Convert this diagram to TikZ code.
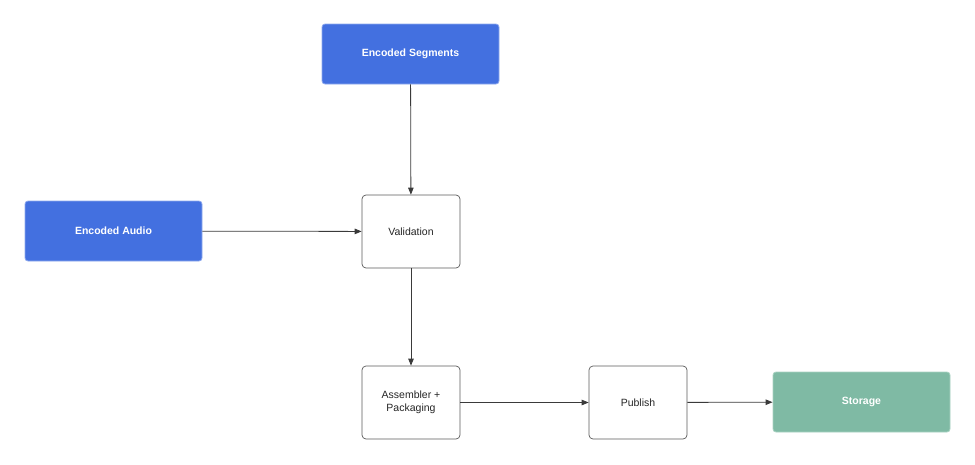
\documentclass[tikz,border=0pt]{standalone}
\usepackage{fontspec}
\setmainfont{Liberation Sans}
\usetikzlibrary{arrows.meta}
\definecolor{bluefill}{HTML}{4370E0}
\definecolor{blueedge}{HTML}{8FA9EE}
\definecolor{greenfill}{HTML}{7FBAA4}
\definecolor{greenedge}{HTML}{A9D2C2}
\definecolor{boxedge}{HTML}{5A5A5A}
\definecolor{linecol}{HTML}{3A3A3A}
\tikzset{
  x=1pt, y=-1pt,
  bluebox/.style={draw=blueedge, fill=bluefill, rounded corners=3pt, minimum width=177pt, minimum height=60pt, text=white, font=\fontsize{10.5}{12}\selectfont\bfseries, inner sep=0pt, line width=0.8pt},
  greenbox/.style={draw=greenedge, fill=greenfill, rounded corners=3pt, minimum width=177pt, minimum height=60pt, text=white, font=\fontsize{10.5}{12}\selectfont\bfseries, inner sep=0pt, line width=0.8pt},
  procbox/.style={draw=boxedge, fill=white, rounded corners=4pt, minimum width=98pt, minimum height=73pt, text=black!85, font=\fontsize{10.5}{13}\selectfont, align=center, inner sep=0pt, line width=0.7pt},
  conn/.style={draw=linecol, line width=0.8pt, -{Triangle[length=7pt,width=5.5pt]}}
}
\begin{document}
\begin{tikzpicture}
\useasboundingbox (0,0) rectangle (975,464);
\node[bluebox] (seg) at (410.5,54) {Encoded Segments};
\node[bluebox] (audio) at (113.5,231) {Encoded Audio};
\node[procbox] (val) at (411,231.5) {Validation};
\node[procbox] (asm) at (411,402.5) {Assembler +\\Packaging};
\node[procbox] (pub) at (638,402.5) {Publish};
\node[greenbox] (sto) at (861.5,402) {Storage};
\draw[conn] (seg) -- (val);
\draw[conn] (audio) -- (val);
\draw[conn] (val) -- (asm);
\draw[conn] (asm) -- (pub);
\draw[conn] (pub) -- (sto);
\end{tikzpicture}
\end{document}
